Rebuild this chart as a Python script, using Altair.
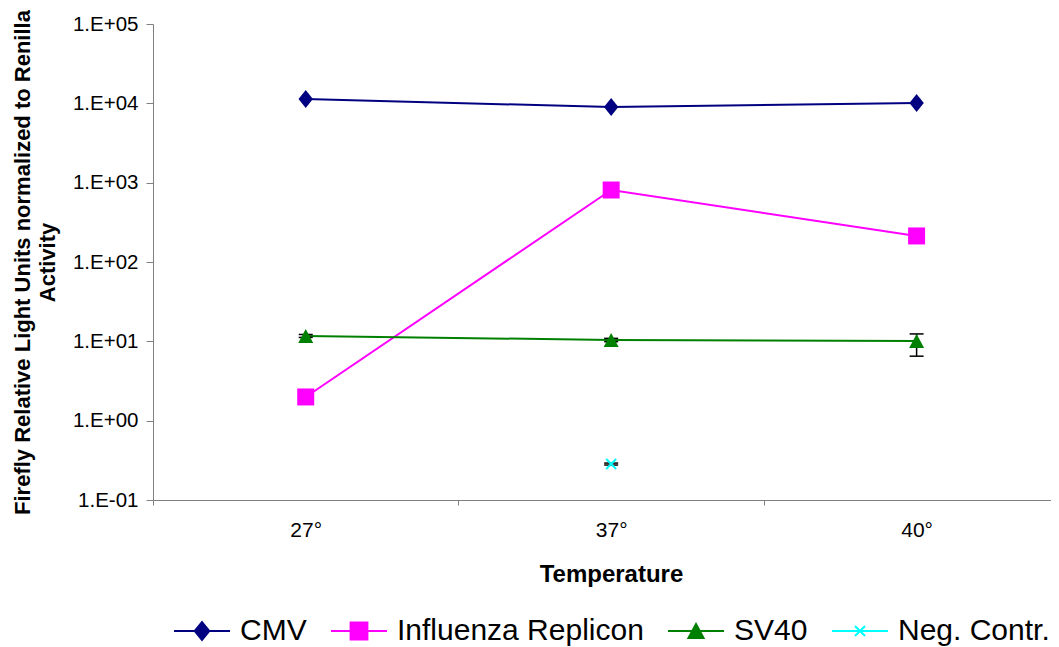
import json
import altair as alt
import pandas as pd

# ---------------- data ----------------
temps = ["27°", "37°", "40°"]
series_names = ["CMV", "Influenza Replicon", "SV40", "Neg. Contr."]
series_colors = ["#000080", "#FF00FF", "#008000", "#00FFFF"]

cmv = [11300, 8990, 10100]
flu = [1.99, 808, 213]
sv40 = [11.7, 10.4, 10.1]
neg = [None, 0.284, None]

sv40_lo = [11.2, 9.9, 6.5]
sv40_hi = [12.2, 10.9, 12.4]
neg_lo = [None, 0.276, None]
neg_hi = [None, 0.292, None]

y_ticks = [0.1, 1, 10, 100, 1000, 10000, 100000]

values = {"CMV": cmv, "Influenza Replicon": flu, "SV40": sv40, "Neg. Contr.": neg}
lows = {"SV40": sv40_lo, "Neg. Contr.": neg_lo}
highs = {"SV40": sv40_hi, "Neg. Contr.": neg_hi}

rows = []
for s in series_names:
    for i, t in enumerate(temps):
        rows.append({
            "series": s,
            "idx": i,
            "temp": t,
            "value": values[s][i],
            "lo": lows.get(s, [None] * 3)[i],
            "hi": highs.get(s, [None] * 3)[i],
        })
df = pd.DataFrame(rows)

# ---------------- styling ----------------
FONT = "Liberation Sans"
marker_shapes = {
    "CMV": ("M0,-1L0.8,0L0,1L-0.8,0Z", 324, True),
    "Influenza Replicon": ("square", 289, True),
    "SV40": ("M0,-0.93L1,0.93L-1,0.93Z", 225, True),
    "Neg. Contr.": ("M-1,-1L1,1M-1,1L1,-1", 100, False),
}
legend_paths = [
    "M-1,0L1,0M0,-0.32L0.26,0L0,0.32L-0.26,0Z",
    "M-1,0L1,0M-0.3,-0.3L0.3,-0.3L0.3,0.3L-0.3,0.3Z",
    "M-1,0L1,0M0,-0.25L0.27,0.25L-0.27,0.25Z",
    "M-1,0L1,0M-0.18,-0.18L0.18,0.18M-0.18,0.18L0.18,-0.18",
]

label_js = json.dumps(temps, ensure_ascii=False)

x_enc = alt.X(
    "idx:Q",
    scale=alt.Scale(domain=[-0.5, 2.44], nice=False, zero=False),
    axis=alt.Axis(
        values=[-0.5, 0, 0.5, 1, 1.5, 2],
        labelExpr=f"datum.value % 1 === 0 ? {label_js}[datum.value] : ''",
        tickOpacity={"condition": {"test": "datum.value % 1 !== 0", "value": 1}, "value": 0},
        tickSize=5,
        grid=False,
        labelFontSize=21,
        labelPadding=14,
        labelFlush=False,
        labelOverlap=False,
        title="Temperature",
        titleFontSize=24,
        titleFontWeight="bold",
        titlePadding=22,
        titleX=458,
    ),
)
y_enc = alt.Y(
    "value:Q",
    scale=alt.Scale(type="log", domain=[0.1, 100000], nice=False),
    axis=alt.Axis(
        values=y_ticks,
        labelExpr="'1.E' + (datum.value < 1 ? '-' : '+') + '0' + abs(round(log(datum.value) / LN10))",
        tickSize=7,
        labelPadding=8,
        labelFontSize=20.5,
        grid=False,
        title=["Firefly Relative Light Units normalized to Renilla", "Activity"],
        titleFontSize=22,
        titleFontWeight="bold",
        titleLineHeight=25,
        titlePadding=13,
    ),
)

legend_spec = alt.Legend(
    title=None,
    orient="none",
    legendX=20,
    legendY=578,
    direction="horizontal",
    symbolSize=3136,
    symbolStrokeWidth=2,
    symbolOpacity=1,
    labelFont=FONT,
    labelFontSize=30,
    labelColor="black",
    labelOffset=9,
    labelLimit=500,
    columnPadding=20,
    padding=0,
)
color_scale = alt.Scale(domain=series_names, range=series_colors)

base = alt.Chart(df)

lines = base.mark_line(strokeWidth=2).encode(
    x=x_enc,
    y=y_enc,
    color=alt.Color("series:N", scale=color_scale, legend=legend_spec),
)

err = base.transform_filter("isValid(datum.lo)")
err_rule = err.mark_rule(color="black", strokeWidth=1.5).encode(x="idx:Q", y="lo:Q", y2="hi:Q")
err_lo = err.mark_tick(orient="horizontal", color="black", size=14, thickness=1.5, opacity=1).encode(x="idx:Q", y="lo:Q")
err_hi = err.mark_tick(orient="horizontal", color="black", size=14, thickness=1.5, opacity=1).encode(x="idx:Q", y="hi:Q")

point_layers = []
for name, col in zip(series_names, series_colors):
    shape, size, filled = marker_shapes[name]
    if filled:
        mk = base.mark_point(shape=shape, size=size, filled=True, opacity=1, color=col, strokeWidth=1)
    else:
        mk = base.mark_point(shape=shape, size=size, filled=False, opacity=1, color=col, strokeWidth=2)
    point_layers.append(mk.transform_filter(alt.datum.series == name).encode(x="idx:Q", y="value:Q"))

legend_layer = base.mark_point(size=0, filled=True).encode(
    x="idx:Q",
    y="value:Q",
    color=alt.Color("series:N", scale=color_scale, legend=legend_spec),
    shape=alt.Shape("series:N", scale=alt.Scale(domain=series_names, range=legend_paths), legend=legend_spec),
)

chart = (
    alt.layer(lines, err_rule, err_lo, err_hi, *point_layers, legend_layer)
    .properties(width=898, height=476, padding={"left": 3, "top": 1, "right": 0, "bottom": 45})
    .configure_axis(
        labelFont=FONT,
        titleFont=FONT,
        labelColor="black",
        titleColor="black",
        domainColor="#808080",
        tickColor="#808080",
    )
    .configure_view(stroke=None)
)

chart.save("out.html", embed_options={"renderer": "svg", "actions": False})
